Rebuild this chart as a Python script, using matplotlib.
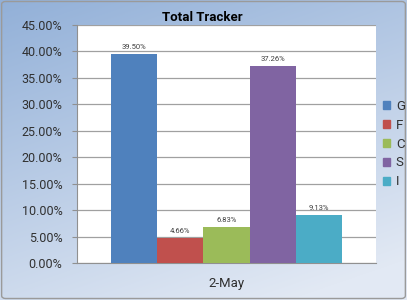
import numpy as np
import matplotlib
matplotlib.use('Agg')
import matplotlib.pyplot as plt
from matplotlib.patches import FancyBboxPatch

plt.rcParams['font.family'] = ['Roboto', 'DejaVu Sans']

categories = ['G', 'F', 'C', 'S', 'I']
values = [39.50, 4.66, 6.83, 37.26, 9.13]
colors = ['#4F81BD', '#C0504D', '#9BBB59', '#8064A2', '#4BACC6']
group_label = '2-May'
yticks = [0, 5, 10, 15, 20, 25, 30, 35, 40, 45]

fig = plt.figure(figsize=(4.07, 3.00), dpi=100)

# background gradient (Excel 2007 style)
bg = fig.add_axes([0, 0, 1, 1], zorder=-10)
yy, xx = np.mgrid[0:1:300j, 0:1:407j]
t = np.clip(0.75 * yy + 0.35 * xx, 0, 1)
top = np.array([146, 176, 216]) / 255
bot = np.array([226, 233, 244]) / 255
img = top[None, None, :] * (1 - t[..., None]) + bot[None, None, :] * t[..., None]
bg.imshow(img, aspect='auto', extent=[0, 1, 0, 1], origin='upper')
bg.add_patch(FancyBboxPatch((0.004, 0.005), 0.992, 0.99,
                            boxstyle='round,pad=0,rounding_size=0.01',
                            fill=False, ec='#9a9a9a', lw=1.0,
                            transform=bg.transAxes))
bg.set_xlim(0, 1)
bg.set_ylim(0, 1)
bg.axis('off')

ax = fig.add_axes([0.189, 0.123, 0.735, 0.794])
ax.set_facecolor('white')
x = np.arange(len(values)) - 2
ax.bar(x, values, width=1.0, color=colors, zorder=3)
for xi, v in zip(x, values):
    ax.text(xi, v + 0.8, f'{v:.2f}%', ha='center', va='bottom',
            fontsize=5.5, color='#404040', zorder=4)

ax.set_xlim(-3.25, 3.25)
ax.set_ylim(0, 45)
ax.set_yticks(yticks)
ax.set_yticklabels([f'{v:.2f}%' for v in yticks], fontsize=9, color='#303030')
ax.yaxis.grid(True, color='#a0a0a0', lw=0.9, zorder=0)
ax.set_xticks([])
for s in ['top', 'right']:
    ax.spines[s].set_visible(False)
ax.spines['left'].set_color('#909090')
ax.spines['bottom'].set_color('#909090')
ax.tick_params(axis='y', length=3.5, color='#909090', pad=7)
ax.text(0.5, -0.085, group_label, transform=ax.transAxes, ha='center', va='center',
        fontsize=9.5, color='#303030')

fig.text(0.497, 0.943, 'Total Tracker', ha='center', va='center',
         fontsize=9.5, fontweight='bold', color='black')

handles = [plt.Rectangle((0, 0), 1, 1, color=c) for c in colors]
leg = fig.legend(handles, categories, loc='center left', bbox_to_anchor=(0.94, 0.52),
                 frameon=False, fontsize=9.5, handlelength=0.6, handleheight=0.6,
                 handletextpad=0.4, labelspacing=0.45, borderpad=0, borderaxespad=0)
for txt in leg.get_texts():
    txt.set_color('#303030')

fig.savefig('out.png', dpi=100)
